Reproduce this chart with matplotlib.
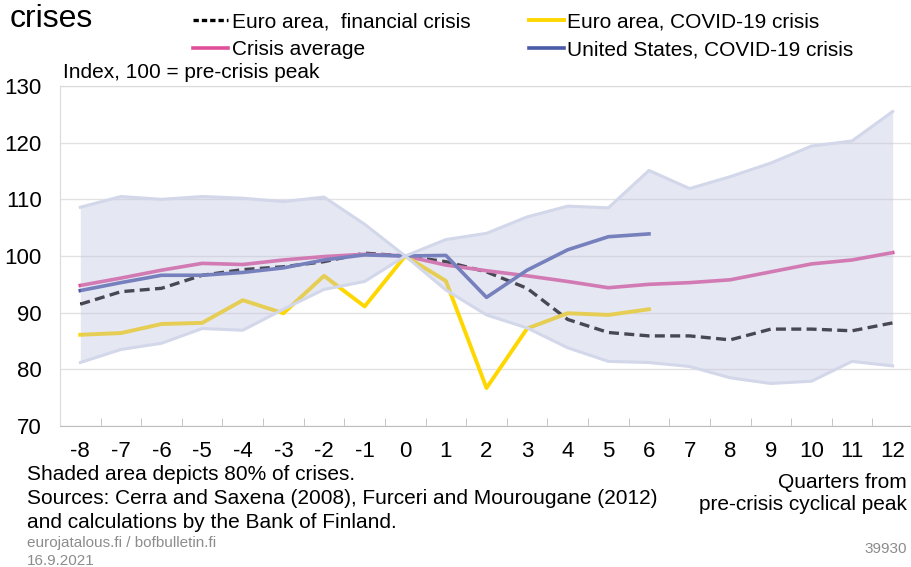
import numpy as np
import matplotlib as mpl
import matplotlib.pyplot as plt
from matplotlib.lines import Line2D
from matplotlib.ticker import MultipleLocator

quarters = list(range(-8, 13))
x_labels = [str(q) for q in quarters]

band_upper = [108.6, 110.5, 110.0, 110.5, 110.2, 109.6, 110.4, 105.6, 100.0, 102.9, 104.0,
              106.9, 108.8, 108.5, 115.1, 111.9, 114.0, 116.4, 119.4, 120.3, 125.5]
band_lower = [81.2, 83.5, 84.6, 87.2, 86.9, 90.6, 94.1, 95.5, 100.0, 94.0, 89.6,
              87.3, 83.8, 81.4, 81.2, 80.5, 78.5, 77.5, 77.9, 81.4, 80.6]
crisis_avg = [94.8, 96.1, 97.5, 98.7, 98.5, 99.3, 99.9, 100.3, 100.0, 98.4, 97.4,
              96.5, 95.5, 94.4, 95.0, 95.3, 95.8, 97.2, 98.6, 99.3, 100.6]
ea_financial = [91.5, 93.7, 94.3, 96.6, 97.6, 98.1, 99.0, 100.5, 100.0, 99.0, 97.2,
                94.3, 88.8, 86.5, 85.9, 85.9, 85.2, 87.1, 87.1, 86.8, 88.2]
# COVID-19 series end at quarter 6
covid_q = list(range(-8, 7))
ea_covid = [86.1, 86.4, 88.0, 88.2, 92.2, 89.9, 96.5, 91.1, 100.0, 95.6, 76.7,
            87.2, 89.9, 89.6, 90.6]
us_covid = [93.9, 95.3, 96.6, 96.6, 97.1, 97.9, 99.3, 100.2, 100.0, 100.1, 92.7,
            97.5, 101.1, 103.4, 103.9]

c_pink = '#e0509a'
c_yellow = '#ffd700'
c_blue = '#4a5aa8'
c_black = '#000000'

mpl.rc('font', family=['Liberation Sans', 'DejaVu Sans'], size=15)

fig = plt.figure(figsize=(9.12, 5.67), dpi=100)
ax = fig.add_axes([60 / 912, 1 - 426 / 567, 853 / 912, 340 / 567])

ax.set_ylim(70, 130)
ax.set_xlim(-8.5, 12.5)
ax.yaxis.set_major_locator(MultipleLocator(10))
ax.grid(axis='y', color='#e2e2e2', lw=1, zorder=0)

ax.plot(quarters, ea_financial, color=c_black, lw=2.4, ls=(0, (3, 1.6)), zorder=2)
ax.plot(quarters, crisis_avg, color=c_pink, lw=2.6, zorder=2)
ax.plot(covid_q, ea_covid, color=c_yellow, lw=2.8, zorder=2)
ax.plot(covid_q, us_covid, color=c_blue, lw=2.6, zorder=2)

# shaded band is drawn over the lines, semi-transparent
ax.fill_between(quarters, band_lower, band_upper, color=(189 / 255, 192 / 255, 221 / 255),
                alpha=0.38, lw=0, zorder=3)
ax.plot(quarters, band_upper, color='#d3d7ea', lw=2.2, zorder=4)
ax.plot(quarters, band_lower, color='#d3d7ea', lw=2.2, zorder=4)

ax.set_xticks(quarters)
ax.set_xticklabels(x_labels)
ax.set_xticks(np.arange(-7.5, 12.5, 1), minor=True)
ax.tick_params(axis='x', which='major', length=0, pad=11, labelsize=16)
ax.tick_params(axis='x', which='minor', direction='in', length=6, color='#bdbdbd')
ax.tick_params(axis='y', length=0, pad=13, labelsize=16)
for side in ['left', 'top']:
    ax.spines[side].set_color('#dadada')
ax.spines['bottom'].set_color('#bdbdbd')
ax.spines['right'].set_visible(False)

handles = [
    Line2D([], [], color=c_black, lw=2.4, ls=(0, (1.6, 0.9))),
    Line2D([], [], color=c_pink, lw=2.6),
    Line2D([], [], color=c_yellow, lw=2.8),
    Line2D([], [], color=c_blue, lw=2.6),
]
labels = ['Euro area,  financial crisis', 'Crisis average',
          'Euro area, COVID-19 crisis', 'United States, COVID-19 crisis']
fig.legend(handles, labels, ncol=2, loc='upper left', bbox_to_anchor=(193 / 912, 1 - 12 / 567),
           frameon=False, fontsize=15, handlelength=1.7, handletextpad=0.15,
           columnspacing=2.8, labelspacing=0.45, borderaxespad=0, borderpad=0)

fig.text(10 / 912, 1 - 19 / 567, 'crises', fontsize=23, va='center', ha='left')
fig.text(63 / 912, 1 - 72 / 567, 'Index, 100 = pre-crisis peak', fontsize=15, va='center')

fig.text(27 / 912, 1 - 475 / 567, 'Shaded area depicts 80% of crises.', fontsize=15, va='center')
fig.text(27 / 912, 1 - 499 / 567,
         'Sources: Cerra and Saxena (2008), Furceri and Mourougane (2012)', fontsize=15, va='center')
fig.text(27 / 912, 1 - 522 / 567, 'and calculations by the Bank of Finland.', fontsize=15, va='center')
fig.text(27 / 912, 1 - 543 / 567, 'eurojatalous.fi / bofbulletin.fi', fontsize=11,
         color='#8c8c8c', va='center')
fig.text(27 / 912, 1 - 561 / 567, '16.9.2021', fontsize=11, color='#8c8c8c', va='center')
fig.text(907 / 912, 1 - 482 / 567, 'Quarters from', fontsize=15, ha='right', va='center')
fig.text(907 / 912, 1 - 504 / 567, 'pre-crisis cyclical peak', fontsize=15, ha='right', va='center')
fig.text(907 / 912, 1 - 549 / 567, '39930', fontsize=11, color='#8c8c8c', ha='right', va='center')

plt.savefig('out.png', dpi=100)
plt.close()
